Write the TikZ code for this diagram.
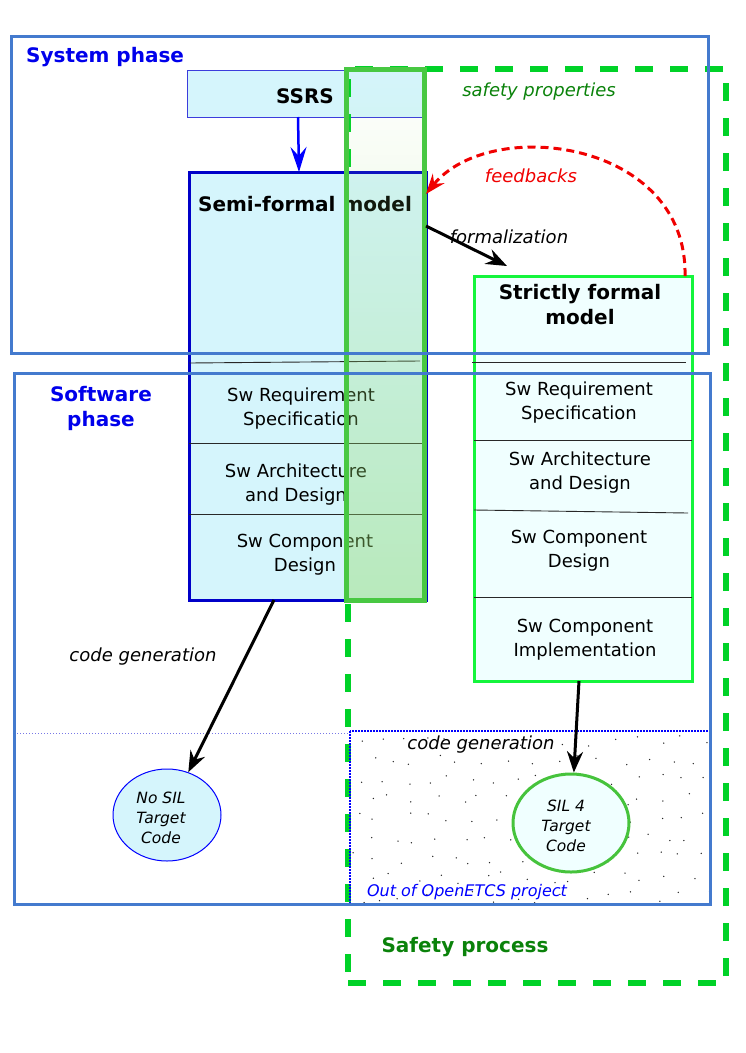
\documentclass[tikz,border=0pt]{standalone}
\usepackage{fontspec}
\setmainfont{DejaVu Sans}
\usetikzlibrary{arrows.meta,fadings,calc,shapes.geometric}
\definecolor{phaseblue}{RGB}{68,122,206}
\definecolor{titleblue}{RGB}{0,0,235}
\definecolor{boxblue}{RGB}{0,0,200}
\definecolor{ssrsblue}{RGB}{60,60,220}
\definecolor{lcyan}{RGB}{213,245,252}
\definecolor{azurefill}{RGB}{240,255,255}
\definecolor{barg}{RGB}{72,200,66}
\definecolor{barfill}{RGB}{150,220,110}
\definecolor{dashg}{RGB}{0,210,40}
\definecolor{strictg}{RGB}{20,245,60}
\definecolor{silg}{RGB}{70,195,60}
\definecolor{darkg}{RGB}{10,130,10}
\definecolor{fbred}{RGB}{240,0,0}
\definecolor{rowline}{RGB}{40,40,40}
\definecolor{dotline}{RGB}{120,120,230}
\tikzset{
  regtext/.style={font=\fontsize{18}{24}\selectfont, align=center, inner sep=0pt},
  boldtext/.style={font=\fontsize{20}{25}\selectfont\bfseries, align=center, inner sep=0pt},
  itext/.style={font=\fontsize{18}{24}\selectfont\itshape, align=center, inner sep=0pt},
  smalli/.style={font=\fontsize{15.5}{20}\selectfont\itshape, align=center, inner sep=0pt},
  boxnode/.style={rectangle, inner sep=0pt, outer sep=0pt, anchor=north west},
  rowsep/.style={draw=rowline, line width=0.9pt},
  blackarrow/.style={line width=3pt, -{Stealth[length=21pt,width=16pt,inset=7pt]}},
  phasebox/.style={boxnode, draw=phaseblue, line width=3pt},
}
\begin{document}
\begin{tikzpicture}[x=1pt,y=-1pt]
\useasboundingbox (0,0) rectangle (745,1053);

% SSRS box
\node[boxnode, fill=lcyan, draw=ssrsblue, line width=1pt, minimum width=235pt, minimum height=47pt] (ssrs) at (187,70) {};
\node[boldtext] (ssrst) at (305,96) {SSRS};

% safety process dashed frame
\node[boxnode, draw=dashg, line width=6pt, dash pattern=on 18pt off 17pt, minimum width=378pt, minimum height=914pt] (safety) at (348,69) {};

% semi-formal model box
\node[boxnode, fill=lcyan, draw=boxblue, line width=3pt, minimum width=237pt, minimum height=428pt] (semi) at (189,172) {};
\draw[rowsep] (semi.west |- 0,363) -- (420,361);
\draw[rowsep] (semi.west |- 0,443) -- (semi.east |- 0,443);
\draw[rowsep] (semi.west |- 0,514) -- (semi.east |- 0,514);
\node[boldtext] (semit) at (305,204) {Semi-formal model};
\node[regtext] (s1) at (301,409) {Sw Requirement\\Specification};
\node[regtext] (s2) at (296,485) {Sw Architecture\\and Design};
\node[regtext] (s3) at (305,555) {Sw Component\\Design};

% green bar
\node[boxnode, minimum width=78pt, minimum height=531pt] (bar) at (346,69) {};
\fill[barfill, fill opacity=0.45, path fading=north] (bar.north west) rectangle (bar.south east);
\draw[barg, line width=5pt] (bar.north west) rectangle (bar.south east);

% strictly formal model
\node[boxnode, fill=azurefill, draw=strictg, line width=3pt, minimum width=218pt, minimum height=405pt] (strict) at (474,276) {};
\draw[rowsep] (472,362) -- (686,362);
\draw[rowsep] (strict.west |- 0,440) -- (strict.east |- 0,440);
\draw[rowsep] (strict.west |- 0,510) -- (688,513);
\draw[rowsep] (strict.west |- 0,597) -- (strict.east |- 0,597);
\node[boldtext] (strictt) at (580,305) {Strictly formal\\model};
\node[regtext] (t1) at (579,403) {Sw Requirement\\Specification};
\node[regtext] (t2) at (580,473) {Sw Architecture\\and Design};
\node[regtext] (t3) at (579,551) {Sw Component\\Design};
\node[regtext] (t4) at (585,640) {Sw Component\\Implementation};

% out of project area
\draw[dotline, line width=1pt, dotted] (14,733) -- (350,733);
\node[boxnode, minimum width=360pt, minimum height=173pt] (outbox) at (350,731) {};
\begin{scope}
\clip (outbox.north west) rectangle (outbox.south east);
\pgfmathsetseed{11}
\foreach \r in {0,...,8}{
  \foreach \c in {0,...,15}{
    \pgfmathsetmacro\rx{357+23*\c+11.5*mod(\r,2)+8*rand}
    \pgfmathsetmacro\ry{741+19.5*\r+6*rand}
    \fill[black!85] (\rx,\ry) circle (0.75);
  }
}
\end{scope}
\draw[blue, line width=1.2pt, dash pattern=on 2pt off 1pt] (outbox.north west) rectangle (outbox.south east);

% ellipses
\node[ellipse, draw=blue, line width=1pt, fill=lcyan, minimum width=108pt, minimum height=92pt, inner sep=0pt] (nosil) at (167,815) {};
\node[smalli] (nosilt) at (161,818) {No SIL\\Target\\Code};
\node[ellipse, draw=silg, line width=3pt, fill=azurefill, minimum width=116pt, minimum height=98pt, inner sep=0pt] (sil4) at (571,823) {};
\node[smalli] (sil4t) at (566,826) {SIL 4\\Target\\Code};

% arrows
\draw[blue, line width=2.5pt, -{Stealth[length=25pt,width=16pt,inset=9pt]}] (ssrs.south -| 298,0) -- (semi.north -| 299,0);
\coordinate (formend) at (507,266);
\draw[blackarrow] (semi.east |- 0,226) -- (formend);
\draw[fbred, line width=3pt, dash pattern=on 8pt off 5pt, -{Stealth[length=20pt,width=15pt,inset=7pt]}]
  (strict.north -| 685,0) .. controls (688,140) and (490,115) .. (semi.east |- 0,194);
\draw[blackarrow] (semi.south -| 274,0) -- (nosil);
\draw[blackarrow] (strict.south -| 579,0) -- (sil4);

% phase boxes
\node[phasebox, minimum width=697pt, minimum height=317pt] (sysbox) at (11,36) {};
\node[phasebox, minimum width=696pt, minimum height=531pt] (swbox) at (14,373) {};
\node[boldtext, text=titleblue, anchor=west] (syst) at (26,57) {System phase};
\node[boldtext, text=titleblue] (swt) at (101,408) {Software\\phase};

% labels
\node[itext, text=darkg] (safprop) at (539,92) {safety properties};
\node[itext, text=fbred] (fbt) at (531,176) {feedbacks};
\node[itext] (formt) at (509,237) {formalization};
\node[itext] (cg1) at (143,657) {code generation};
\node[itext] (cg2) at (481,745) {code generation};
\node[font=\fontsize{16}{20}\selectfont\itshape, text=blue, inner sep=0pt] (outt) at (467,892) {Out of OpenETCS project};
\node[boldtext, text=darkg] (safpt) at (465,947) {Safety process};
\end{tikzpicture}
\end{document}
